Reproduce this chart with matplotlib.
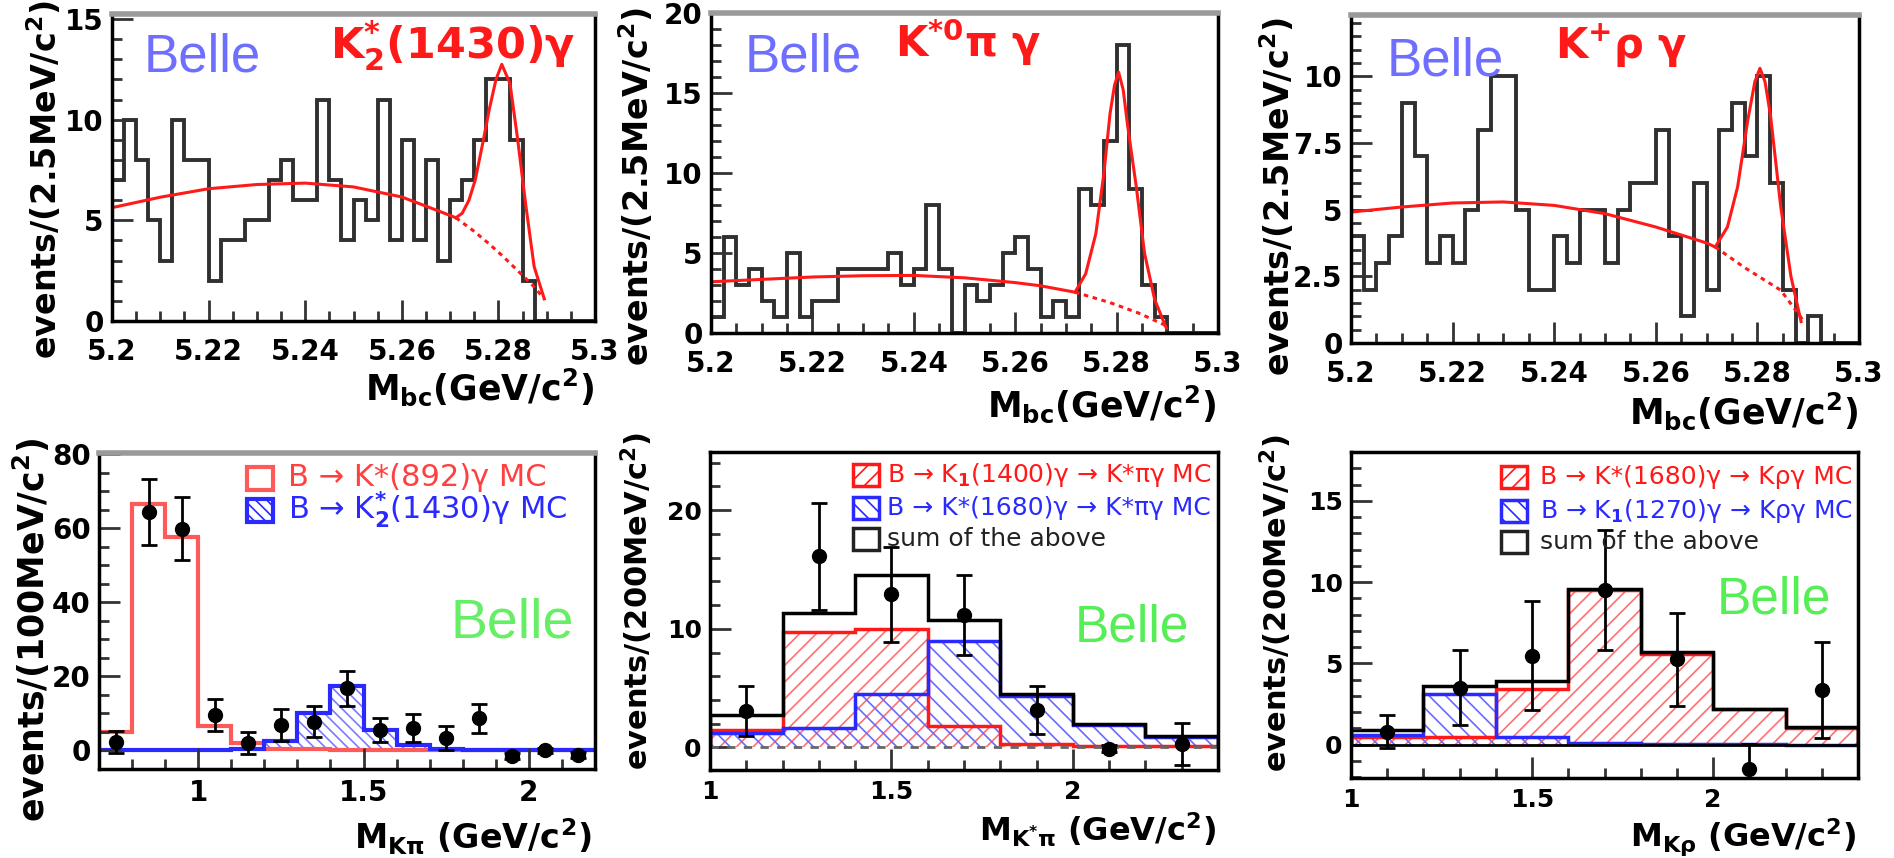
import numpy as np
import matplotlib.pyplot as plt
from matplotlib.patches import Rectangle
from matplotlib.ticker import MultipleLocator, FuncFormatter

plt.rcParams['font.family'] = ['DejaVu Sans']
plt.rcParams['font.weight'] = 'bold'
plt.rcParams['mathtext.fontset'] = 'dejavusans'
plt.rcParams['hatch.linewidth'] = 1.2

# ---- top row: Mbc, 2.5 MeV bins from 5.2 to 5.3
mbc_edges = np.linspace(5.2, 5.3, 41)
k2_counts = [7, 10, 8, 5, 3, 10, 8, 8, 2, 4, 4, 5, 5, 7, 8, 6, 6, 11, 7, 4,
             6, 5, 11, 4, 9, 4, 8, 3, 6, 7, 9, 12, 12, 9, 2, 0, 0, 0, 0, 0]
kstpi_counts = [1, 6, 3, 4, 2, 1, 5, 1, 2, 2, 4, 4, 4, 4, 5, 3, 4, 8, 4, 0,
                3, 2, 3, 5, 6, 4, 1, 2, 1, 9, 8, 12, 18, 9, 3, 1, 0, 0, 0, 0]
krho_counts = [4, 2, 3, 4, 9, 7, 3, 4, 3, 5, 8, 10, 10, 5, 2, 2, 4, 3, 5, 5,
               3, 5, 6, 6, 8, 4, 1, 6, 2, 8, 9, 7, 10, 6, 2, 0, 1, 0, 0, 0]

# fit curves
k2_bkg_x = [5.200, 5.210, 5.220, 5.230, 5.240, 5.250, 5.260, 5.2655, 5.2712]
k2_bkg_y = [5.63, 6.15, 6.57, 6.78, 6.85, 6.66, 6.16, 5.66, 5.13]
k2_tail_x = [5.2712, 5.275, 5.278, 5.281, 5.284, 5.287, 5.2895]
k2_tail_y = [5.13, 4.45, 3.85, 3.2, 2.5, 1.8, 1.1]
k2_sig_x = [5.2712, 5.2725, 5.2739, 5.2752, 5.2769, 5.2781, 5.2795, 5.2807,
            5.2824, 5.2840, 5.2857, 5.2874, 5.2895]
k2_sig_y = [5.13, 5.35, 6.0, 7.0, 9.0, 10.5, 12.0, 12.75, 11.8, 9.0, 5.7, 2.7, 1.1]

kstpi_bkg_x = [5.200, 5.210, 5.220, 5.230, 5.240, 5.250, 5.260, 5.265, 5.2718]
kstpi_bkg_y = [3.2, 3.35, 3.5, 3.58, 3.6, 3.45, 3.15, 2.95, 2.55]
kstpi_tail_x = [5.2718, 5.275, 5.2787, 5.2843, 5.2895]
kstpi_tail_y = [2.55, 2.25, 1.9, 1.25, 0.5]
kstpi_sig_x = [5.2718, 5.2739, 5.2759, 5.2775, 5.2787, 5.2796, 5.2804, 5.2813,
               5.2822, 5.2839, 5.2855, 5.2875, 5.2898]
kstpi_sig_y = [2.55, 3.7, 6.2, 10.0, 13.7, 15.5, 16.3, 15.2, 12.9, 9.1, 5.0, 2.1, 0.3]

krho_bkg_x = [5.200, 5.210, 5.220, 5.230, 5.240, 5.250, 5.260, 5.270, 5.2717]
krho_bkg_y = [4.91, 5.1, 5.25, 5.29, 5.16, 4.85, 4.35, 3.75, 3.6]
krho_tail_x = [5.2717, 5.2773, 5.2846, 5.289]
krho_tail_y = [3.6, 2.85, 1.98, 0.85]
krho_sig_x = [5.2717, 5.2741, 5.2761, 5.2781, 5.2795, 5.2805, 5.2815, 5.2826,
              5.2846, 5.2866, 5.2886]
krho_sig_y = [3.6, 4.35, 5.85, 8.35, 9.8, 10.3, 9.8, 8.5, 5.1, 2.5, 0.8]

# ---- bottom left: M(K pi), 100 MeV bins
kpi_edges = np.linspace(0.7, 2.2, 16)
kpi_kst892 = [5.1, 66.5, 57.5, 6.5, 2.0, 0.5, 0.3, 0.2, 0.2, 0.1, 0.1, 0.1, 0.1, 0.1, 0.1]
kpi_k2 = [0, 0, 0, 0, 0.4, 2.5, 10.0, 17.5, 5.5, 1.5, 0.5, 0.2, 0.1, 0.1, 0.1]
kpi_x = [0.75, 0.85, 0.95, 1.05, 1.15, 1.25, 1.35, 1.45, 1.55, 1.65, 1.75, 1.85, 1.95, 2.05, 2.15]
kpi_y = [2.2, 64.4, 59.8, 9.5, 2.0, 6.9, 7.8, 16.8, 5.6, 6.0, 3.3, 8.7, -1.6, 0.0, -1.2]
kpi_err = [3.0, 9.0, 8.5, 4.3, 3.0, 4.4, 4.2, 4.7, 3.2, 3.8, 3.2, 3.9, 0.8, 0.6, 0.8]

# ---- bottom middle: M(K* pi), 200 MeV bins
res_edges = np.linspace(1.0, 2.4, 8)
res_x = [1.1, 1.3, 1.5, 1.7, 1.9, 2.1, 2.3]
kstpi_k1400 = [1.5, 9.7, 10.0, 1.8, 0.3, 0.1, 0.1]
kstpi_k1680 = [1.2, 1.6, 4.5, 9.0, 4.3, 1.9, 0.9]
kstpi_sum = [2.7, 11.3, 14.5, 10.7, 4.5, 2.0, 1.0]
kstpi_y = [3.1, 16.1, 12.9, 11.15, 3.15, -0.1, 0.3]
kstpi_err = [2.1, 4.5, 4.0, 3.4, 2.0, 0.3, 1.8]

# ---- bottom right: M(K rho), 200 MeV bins
krho_k1680 = [0.5, 0.5, 3.4, 9.5, 5.6, 2.2, 1.0]
krho_k1270 = [0.6, 3.1, 0.5, 0.1, 0.05, 0.02, 0.0]
krho_sum = [0.9, 3.6, 3.9, 9.6, 5.7, 2.2, 1.1]
krho_y = [0.8, 3.5, 5.46, 9.5, 5.24, -1.48, 3.35]
krho_err = [1.0, 2.3, 3.35, 3.7, 2.85, 1.5, 2.95]

W, H = 1894, 858
fig = plt.figure(figsize=(W / 100, H / 100), dpi=100)

RED = '#ff1a1a'
BLUE = '#2a2aff'
HELV = ['Liberation Sans', 'DejaVu Sans']


def add_ax(l, t, r, b):
    return fig.add_axes([l / W, 1 - b / H, (r - l) / W, (b - t) / H])


def ftext(x, y, s, **kw):
    fig.text(x / W, 1 - y / H, s, **kw)


def fbox(x, y, w, h, **kw):
    fig.add_artist(Rectangle((x / W, 1 - (y + h) / H), w / W, h / H,
                             transform=fig.transFigure, **kw))


def style(ax, xmaj, xmin, ymaj, ymin, gray_top=True, lsize=20, xpad=7):
    ax.xaxis.set_major_locator(MultipleLocator(xmaj))
    ax.xaxis.set_minor_locator(MultipleLocator(xmin))
    ax.yaxis.set_major_locator(MultipleLocator(ymaj))
    ax.yaxis.set_minor_locator(MultipleLocator(ymin))
    fmt = FuncFormatter(lambda v, p: f'{v:g}')
    ax.xaxis.set_major_formatter(fmt)
    ax.yaxis.set_major_formatter(fmt)
    ax.tick_params(which='both', direction='in', width=2, color='#333333',
                   labelsize=lsize, top=False, right=False)
    ax.tick_params(axis='x', pad=xpad)
    ax.tick_params(axis='y', pad=6)
    ax.tick_params(which='major', length=15)
    ax.tick_params(which='minor', length=7)
    for s in ax.spines.values():
        s.set_linewidth(2.5)
        s.set_color('black')
    if gray_top:
        ax.spines['top'].set_color('#9a9a9a')
        ax.spines['top'].set_linewidth(4)


def mbc_panel(box, counts, ymax, ymaj, ymin, bx, by, tx, ty, sx, sy):
    ax = add_ax(*box)
    ax.stairs(counts, mbc_edges, color='#303030', lw=2.8, baseline=0)
    ax.plot(bx, by, color=RED, lw=2.2)
    ax.plot(tx, ty, color=RED, lw=2.2, ls=(0, (1.5, 1.5)))
    ax.plot(sx, sy, color=RED, lw=2.2)
    ax.set_xlim(5.2, 5.3)
    ax.set_ylim(0, ymax)
    style(ax, 0.02, 0.005, ymaj, ymin, xpad=12)
    return ax


# top row
mbc_panel((112, 14, 595, 321), k2_counts, 15.25, 5, 1,
          k2_bkg_x, k2_bkg_y, k2_tail_x, k2_tail_y, k2_sig_x, k2_sig_y)
mbc_panel((711, 13, 1218, 333), kstpi_counts, 20.0, 5, 1,
          kstpi_bkg_x, kstpi_bkg_y, kstpi_tail_x, kstpi_tail_y, kstpi_sig_x, kstpi_sig_y)
mbc_panel((1351, 15, 1859, 343), krho_counts, 12.3, 2.5, 0.5,
          krho_bkg_x, krho_bkg_y, krho_tail_x, krho_tail_y, krho_sig_x, krho_sig_y)

mbc_label = r'$\mathbf{M_{bc}(GeV/c^{2})}$'
ylab25 = r'$\mathbf{events/(2.5MeV/c^{2})}$'
for cx, cy, rx, ry in [(45, 180, 594, 387), (637, 187, 1216, 404), (1278, 197, 1858, 411)]:
    ftext(cx, cy, ylab25, fontsize=24, rotation=90, ha='center', va='center')
    ftext(rx, ry, mbc_label, fontsize=25, ha='right', va='center')

ftext(453, 46, r'$\mathbf{K^{*}_{2}(1430)\gamma}$', color=RED, fontsize=31, ha='center', va='center')
ftext(968, 42, r'$\mathbf{K^{*0}\pi\ \gamma}$', color=RED, fontsize=30, ha='center', va='center')
ftext(1621, 45, r'$\mathbf{K^{+}\rho\ \gamma}$', color=RED, fontsize=30, ha='center', va='center')
for cx, cy in [(202, 57), (803, 57), (1445, 62)]:
    ftext(cx, cy, 'Belle', color='#6f6fff', fontsize=38, fontweight='normal',
          family=HELV, ha='center', va='center')

# bottom left
ax = add_ax(99, 453, 595, 769)
ax.stairs(kpi_k2, kpi_edges, fill=True, hatch='\\\\\\', facecolor='none',
          edgecolor='#7a7aff', lw=0)
ax.stairs(kpi_kst892, kpi_edges, color='#ff5a5a', lw=3, baseline=0)
ax.stairs(kpi_k2, kpi_edges, color=BLUE, lw=3, baseline=0)
ax.errorbar(kpi_x, kpi_y, yerr=kpi_err, fmt='o', color='black', ms=10,
            capsize=6, elinewidth=2, capthick=2, zorder=5)
ax.set_xlim(0.7, 2.2)
ax.set_ylim(-5, 80.3)
style(ax, 0.5, 0.1, 20, 5)
ftext(31, 630, r'$\mathbf{events/(100MeV/c^{2})}$', fontsize=25, rotation=90, ha='center', va='center')
ftext(592, 837, r'$\mathbf{M_{K\pi}\ (GeV/c^{2})}$', fontsize=24, ha='right', va='center')
ftext(512, 624, 'Belle', color='#66ee66', fontsize=40, fontweight='normal', family=HELV,
      ha='center', va='center')
fbox(247, 467, 26, 23, facecolor='white', edgecolor='#ff5a5a', lw=3)
fbox(247, 499, 26, 23, facecolor='none', edgecolor=BLUE, lw=3, hatch='\\\\\\')
ftext(288, 478, 'B → K*(892)γ MC', color='#ff4040', fontsize=22, fontweight='normal', va='center')
ftext(288, 510, r'B → K$^{*}_{2}$(1430)γ MC', color=BLUE, fontsize=22,
      fontweight='normal', va='center')


def res_panel(box, red, blue, tot, y, err, ymin_, ymax_, ymaj, ymn, dashed):
    ax = add_ax(*box)
    ax.stairs(red, res_edges, fill=True, hatch='//', facecolor='none', edgecolor='#ff7070', lw=0)
    ax.stairs(blue, res_edges, fill=True, hatch='\\\\', facecolor='none', edgecolor='#6a6aff', lw=0)
    if dashed:
        ax.axhline(0, color='#666666', lw=2, ls=(0, (3, 3)))
    else:
        ax.axhline(0, color='black', lw=2)
    ax.stairs(red, res_edges, color=RED, lw=2.5, baseline=0)
    ax.stairs(blue, res_edges, color=BLUE, lw=2.5, baseline=0)
    ax.stairs(tot, res_edges, color='black', lw=2.5, baseline=0)
    ax.errorbar(res_x, y, yerr=err, fmt='o', color='black', ms=10,
                capsize=6, elinewidth=2, capthick=2, zorder=5)
    ax.set_xlim(1.0, 2.4)
    ax.set_ylim(ymin_, ymax_)
    style(ax, 0.5, 0.1, ymaj, ymn, gray_top=False, lsize=18)
    return ax


res_panel((710, 452, 1218, 770), kstpi_k1400, kstpi_k1680, kstpi_sum, kstpi_y, kstpi_err,
          -1.9, 24.9, 10, 2, True)
res_panel((1351, 452, 1858, 778), krho_k1680, krho_k1270, krho_sum, krho_y, krho_err,
          -2.05, 18.0, 5, 1, False)

ylab200 = r'$\mathbf{events/(200MeV/c^{2})}$'
ftext(637, 601, ylab200, fontsize=22, rotation=90, ha='center', va='center')
ftext(1276, 603, ylab200, fontsize=22, rotation=90, ha='center', va='center')
ftext(1216, 830, r'$\mathbf{M_{K^{*}\pi}\ (GeV/c^{2})}$', fontsize=23, ha='right', va='center')
ftext(1856, 837, r'$\mathbf{M_{K\rho}\ (GeV/c^{2})}$', fontsize=23, ha='right', va='center')
ftext(1132, 628, 'Belle', color='#55ee55', fontsize=37, fontweight='normal', family=HELV,
      ha='center', va='center')
ftext(1774, 600, 'Belle', color='#55ee55', fontsize=37, fontweight='normal', family=HELV,
      ha='center', va='center')

legends = [
    (853, 887, [(475, r'B → K$_{1}$(1400)γ → K*πγ MC', RED, '//'),
                (508, 'B → K*(1680)γ → K*πγ MC', BLUE, '\\\\'),
                (539, 'sum of the above', '#222222', None)]),
    (1501, 1540, [(477, 'B → K*(1680)γ → Kργ MC', RED, '//'),
                  (511, r'B → K$_{1}$(1270)γ → Kργ MC', BLUE, '\\\\'),
                  (542, 'sum of the above', '#222222', None)]),
]
for bx, tx, rows in legends:
    for ry, label, col, hatch in rows:
        fbox(bx, ry - 11, 26, 22, facecolor='white' if hatch is None else 'none',
             edgecolor=col, lw=2.5, hatch=hatch)
        ftext(tx, ry, label, color=col, fontsize=18, fontweight='normal', va='center')

fig.savefig('out.png', dpi=100)
